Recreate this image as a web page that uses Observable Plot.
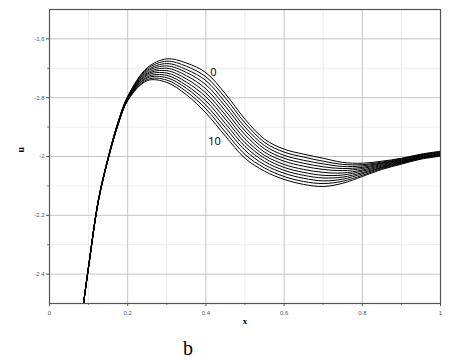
<!DOCTYPE html>
<html>
<head>
<meta charset="utf-8">
<script src="https://cdn.jsdelivr.net/npm/d3@7"></script>
<script src="https://cdn.jsdelivr.net/npm/@observablehq/plot@0.6"></script>
<style>
  body { margin: 0; background: #fff; }
  #caption { font-family: "Liberation Serif", serif; font-size: 20px; line-height: 20px; padding-left: 183px; margin-top: 8px; color: #000; }
</style>
</head>
<body>
<div id="chart"></div>
<div id="caption">b</div>
<script>
const xs = [0.087, 0.1, 0.125, 0.15, 0.175, 0.2, 0.25, 0.3, 0.35, 0.4, 0.45, 0.5, 0.55, 0.6, 0.65, 0.7, 0.75, 0.8, 0.85, 0.9, 0.95, 1.0];
const u0  = [-2.5, -2.372, -2.147, -2.003, -1.884, -1.795, -1.698, -1.668, -1.682, -1.715, -1.787, -1.873, -1.941, -1.975, -1.992, -2.006, -2.020, -2.023, -2.016, -2.006, -1.992, -1.982];
const u1  = [-2.5, -2.372, -2.148, -2.004, -1.885, -1.797, -1.702, -1.676, -1.693, -1.729, -1.801, -1.886, -1.952, -1.985, -2.002, -2.016, -2.027, -2.028, -2.019, -2.008, -1.994, -1.984];
const u2  = [-2.5, -2.373, -2.148, -2.004, -1.886, -1.798, -1.707, -1.684, -1.704, -1.742, -1.816, -1.900, -1.963, -1.996, -2.013, -2.025, -2.034, -2.032, -2.022, -2.010, -1.995, -1.985];
const u3  = [-2.5, -2.373, -2.149, -2.005, -1.887, -1.800, -1.711, -1.692, -1.714, -1.756, -1.830, -1.913, -1.974, -2.006, -2.023, -2.035, -2.041, -2.037, -2.024, -2.012, -1.997, -1.987];
const u4  = [-2.5, -2.374, -2.149, -2.006, -1.888, -1.801, -1.716, -1.700, -1.725, -1.770, -1.845, -1.926, -1.985, -2.016, -2.033, -2.044, -2.048, -2.041, -2.027, -2.014, -1.999, -1.989];
const u5  = [-2.5, -2.374, -2.150, -2.007, -1.889, -1.803, -1.720, -1.708, -1.736, -1.784, -1.859, -1.940, -1.996, -2.027, -2.044, -2.054, -2.056, -2.046, -2.030, -2.016, -2.001, -1.991];
const u6  = [-2.5, -2.375, -2.151, -2.007, -1.890, -1.804, -1.724, -1.716, -1.747, -1.797, -1.873, -1.953, -2.006, -2.037, -2.054, -2.064, -2.063, -2.050, -2.033, -2.018, -2.002, -1.992];
const u7  = [-2.5, -2.375, -2.151, -2.008, -1.891, -1.806, -1.729, -1.724, -1.758, -1.811, -1.888, -1.966, -2.017, -2.047, -2.064, -2.073, -2.070, -2.055, -2.036, -2.020, -2.004, -1.994];
const u8  = [-2.5, -2.376, -2.152, -2.009, -1.892, -1.807, -1.733, -1.732, -1.768, -1.825, -1.902, -1.979, -2.028, -2.057, -2.074, -2.083, -2.077, -2.059, -2.038, -2.022, -2.006, -1.996];
const u9  = [-2.5, -2.376, -2.152, -2.009, -1.893, -1.809, -1.738, -1.740, -1.779, -1.838, -1.917, -1.993, -2.039, -2.068, -2.085, -2.092, -2.084, -2.064, -2.041, -2.024, -2.007, -1.997];
const u10 = [-2.5, -2.377, -2.153, -2.010, -1.894, -1.810, -1.742, -1.748, -1.790, -1.852, -1.931, -2.006, -2.050, -2.078, -2.095, -2.102, -2.091, -2.068, -2.044, -2.026, -2.009, -1.999];
const seriesValues = [u0, u1, u2, u3, u4, u5, u6, u7, u8, u9, u10];

const xTicks = [0, 0.2, 0.4, 0.6, 0.8, 1];
const xMinor = [0.1, 0.3, 0.5, 0.7, 0.9];
const yTicks = [-1.6, -1.8, -2, -2.2, -2.4];
const yMinor = [-1.7, -1.9, -2.1, -2.3];
const curveLabels = [{x: 0.419, y: -1.713, text: "0"}, {x: 0.422, y: -1.948, text: "10"}];

const rows = [];
seriesValues.forEach((vals, k) => vals.forEach((v, i) => rows.push({x: xs[i], u: v, s: k})));

const fmt = d => String(d);

const chart = Plot.plot({
  width: 457,
  height: 330,
  marginLeft: 49,
  marginRight: 17,
  marginTop: 9,
  marginBottom: 27,
  style: {background: "#fff", fontFamily: "Liberation Sans, sans-serif"},
  x: {domain: [0, 1]},
  y: {domain: [-2.5, -1.5]},
  marks: [
    Plot.ruleX(xMinor, {stroke: "#ececec", strokeWidth: 1}),
    Plot.ruleY(yMinor, {stroke: "#ececec", strokeWidth: 1}),
    Plot.ruleX(xTicks.slice(1, -1), {stroke: "#c4c4c4", strokeWidth: 1}),
    Plot.ruleY(yTicks, {stroke: "#c4c4c4", strokeWidth: 1}),
    Plot.axisX({ticks: xTicks, tickSize: 3, tickPadding: 4, fontSize: 6, tickFormat: fmt, stroke: "#555", color: "#555", label: null}),
    Plot.axisX({ticks: xMinor, tickSize: 2, tickFormat: () => "", stroke: "#777", label: null}),
    Plot.axisY({ticks: yTicks, tickSize: 3, tickPadding: 2, fontSize: 6, tickFormat: fmt, stroke: "#555", color: "#555", label: null}),
    Plot.axisY({ticks: yMinor, tickSize: 2, tickFormat: () => "", stroke: "#777", label: null}),
    Plot.line(rows, {x: "x", y: "u", z: "s", stroke: "#000", strokeWidth: 1, curve: "catmull-rom"}),
    Plot.frame({stroke: "#555", strokeWidth: 1.2}),
    Plot.text(curveLabels, {x: "x", y: "y", text: "text", fontSize: 11, fill: "#000", fontFamily: "Open Sans, sans-serif"}),
    Plot.text(["x"], {frameAnchor: "bottom", dy: 20, fontSize: 9, fontWeight: "bold", fontFamily: "Liberation Serif, serif", fill: "#000"}),
    Plot.text(["u"], {frameAnchor: "left", dx: -29, dy: -4, rotate: -90, fontSize: 10, fontWeight: "bold", fontFamily: "Liberation Serif, serif", fill: "#000"})
  ]
});
document.getElementById("chart").appendChild(chart);
</script>
</body>
</html>
